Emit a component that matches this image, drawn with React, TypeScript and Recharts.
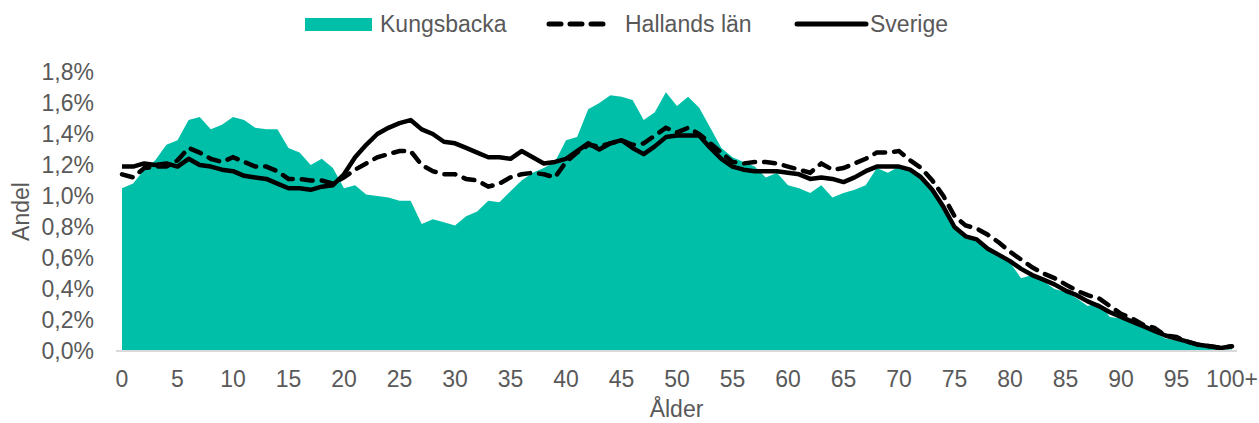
import { Area, ComposedChart, Line, XAxis, YAxis } from "recharts";

const ages = [
  ...Array.from({ length: 100 }, (_, i) => String(i)),
  "100+",
];

const kungsbacka = [
  1.05, 1.08, 1.17, 1.23, 1.33, 1.36, 1.49, 1.51, 1.43, 1.46,
  1.51, 1.49, 1.44, 1.43, 1.43, 1.31, 1.28, 1.2, 1.24, 1.18,
  1.05, 1.07, 1.01, 1.0, 0.99, 0.97, 0.97, 0.82, 0.85, 0.83,
  0.81, 0.87, 0.9, 0.97, 0.96, 1.03, 1.1, 1.15, 1.18, 1.22,
  1.36, 1.38, 1.56, 1.6, 1.65, 1.64, 1.62, 1.49, 1.54, 1.67,
  1.58, 1.64, 1.57, 1.44, 1.31, 1.25, 1.22, 1.19, 1.12, 1.15,
  1.07, 1.05, 1.02, 1.07, 0.99, 1.02, 1.04, 1.07, 1.18, 1.15,
  1.19, 1.17, 1.14, 1.03, 0.92, 0.8, 0.75, 0.72, 0.67, 0.61,
  0.57, 0.47, 0.49, 0.45, 0.4, 0.38, 0.34, 0.29, 0.31, 0.22,
  0.21, 0.18, 0.15, 0.12, 0.08, 0.07, 0.05, 0.03, 0.02, 0.01,
  0.01,
];

const hallandsLan = [
  1.14, 1.12, 1.18, 1.19, 1.19, 1.23, 1.31, 1.28, 1.24, 1.22,
  1.25, 1.22, 1.19, 1.19, 1.16, 1.11, 1.11, 1.1, 1.1, 1.08,
  1.12, 1.17, 1.21, 1.25, 1.27, 1.29, 1.29, 1.2, 1.16, 1.14,
  1.14, 1.11, 1.1, 1.06, 1.08, 1.12, 1.14, 1.15, 1.14, 1.12,
  1.22, 1.28, 1.33, 1.32, 1.34, 1.36, 1.33, 1.34, 1.39, 1.44,
  1.41, 1.44, 1.4, 1.34, 1.28, 1.22, 1.21, 1.22, 1.22, 1.21,
  1.19, 1.17, 1.15, 1.21, 1.17, 1.18, 1.21, 1.24, 1.28, 1.28,
  1.29, 1.23, 1.18, 1.1, 1.0, 0.87, 0.81, 0.79, 0.75, 0.7,
  0.64, 0.59, 0.54, 0.5, 0.47, 0.43, 0.39, 0.36, 0.34, 0.29,
  0.24, 0.21, 0.17, 0.15, 0.1, 0.09, 0.06, 0.04, 0.03, 0.02,
  0.03,
];

const sverige = [
  1.19, 1.19, 1.21, 1.2, 1.21, 1.19, 1.24, 1.2, 1.19, 1.17,
  1.16, 1.13, 1.12, 1.11, 1.08, 1.05, 1.05, 1.04, 1.06, 1.07,
  1.14, 1.25, 1.33, 1.4, 1.44, 1.47, 1.49, 1.43, 1.4, 1.35,
  1.34, 1.31, 1.28, 1.25, 1.25, 1.24, 1.29, 1.25, 1.21, 1.22,
  1.24, 1.29, 1.34, 1.3, 1.34, 1.36, 1.31, 1.27, 1.32, 1.38,
  1.39, 1.39, 1.39, 1.31, 1.24, 1.19, 1.17, 1.16, 1.16, 1.16,
  1.15, 1.14, 1.11, 1.12, 1.11, 1.09, 1.12, 1.16, 1.19, 1.19,
  1.19, 1.17, 1.12, 1.04, 0.93, 0.8, 0.74, 0.72, 0.66, 0.62,
  0.58, 0.53, 0.49, 0.46, 0.43, 0.39, 0.36, 0.32, 0.29, 0.25,
  0.22, 0.19, 0.16, 0.13, 0.1, 0.08, 0.06, 0.04, 0.03, 0.02,
  0.03,
];

const yTicks = [0, 0.2, 0.4, 0.6, 0.8, 1.0, 1.2, 1.4, 1.6, 1.8];

const data = ages.map((age, i) => ({
  age,
  kungsbacka: kungsbacka[i],
  hallands: hallandsLan[i],
  sverige: sverige[i],
}));

const TEAL = "#00BFA8";
const TEXT = "#595959";
const FONT = "'Liberation Sans', Arial, sans-serif";

const fmt = (v: number) => v.toFixed(1).replace(".", ",") + "%";

// legend drawn on its own so it takes no room from the plot
const ChartLegend = () => (
  <svg width={1259} height={45} style={{ position: "absolute", left: 0, top: 0 }}>
    <g fontFamily={FONT} fontSize={23} fill={TEXT}>
      <rect x={305} y={18} width={67} height={13} fill={TEAL} />
      <text x={380} y={32}>Kungsbacka</text>
      <line
        x1={549}
        y1={24}
        x2={611}
        y2={24}
        stroke="#000"
        strokeWidth={5}
        strokeDasharray="12 9"
        strokeLinecap="round"
      />
      <text x={625} y={32}>Hallands län</text>
      <line x1={797} y1={24} x2={866} y2={24} stroke="#000" strokeWidth={5} strokeLinecap="round" />
      <text x={870} y={32}>Sverige</text>
    </g>
  </svg>
);

export default function App() {
  return (
    <div style={{ position: "absolute", left: 0, top: 0, width: 1259, height: 423, background: "#fff" }}>
      <ComposedChart
        width={1259}
        height={423}
        data={data}
        margin={{ top: 72, right: 22, bottom: 0, left: 0 }}
      >
        <XAxis
          dataKey="age"
          interval={4}
          height={72}
          padding={{ left: 6, right: 5 }}
          tickLine={false}
          tickSize={0}
          tickMargin={20}
          axisLine={{ stroke: "#D9D9D9", strokeWidth: 2 }}
          tick={{ fill: TEXT, fontSize: 23, fontFamily: FONT }}
          label={{
            value: "Ålder",
            position: "insideBottom",
            offset: 6,
            fill: TEXT,
            fontSize: 23,
            fontFamily: FONT,
          }}
        />
        <YAxis
          domain={[0, 1.8]}
          ticks={yTicks}
          interval={0}
          width={116}
          axisLine={false}
          tickLine={false}
          tickSize={0}
          tickMargin={22}
          tickFormatter={fmt}
          tick={{ fill: TEXT, fontSize: 23, fontFamily: FONT }}
          label={{
            value: "Andel",
            angle: -90,
            position: "insideLeft",
            offset: 21,
            fill: TEXT,
            fontSize: 23,
            fontFamily: FONT,
            style: { textAnchor: "middle" },
          }}
        />
        <Area
          type="linear"
          dataKey="kungsbacka"
          name="Kungsbacka"
          fill={TEAL}
          fillOpacity={1}
          stroke="none"
          isAnimationActive={false}
        />
        <Line
          type="linear"
          dataKey="hallands"
          name="Hallands län"
          stroke="#000"
          strokeWidth={4.5}
          strokeDasharray="11 9"
          strokeLinecap="round"
          dot={false}
          isAnimationActive={false}
        />
        <Line
          type="linear"
          dataKey="sverige"
          name="Sverige"
          stroke="#000"
          strokeWidth={4.5}
          strokeLinejoin="round"
          dot={false}
          isAnimationActive={false}
        />
      </ComposedChart>
      <ChartLegend />
    </div>
  );
}
